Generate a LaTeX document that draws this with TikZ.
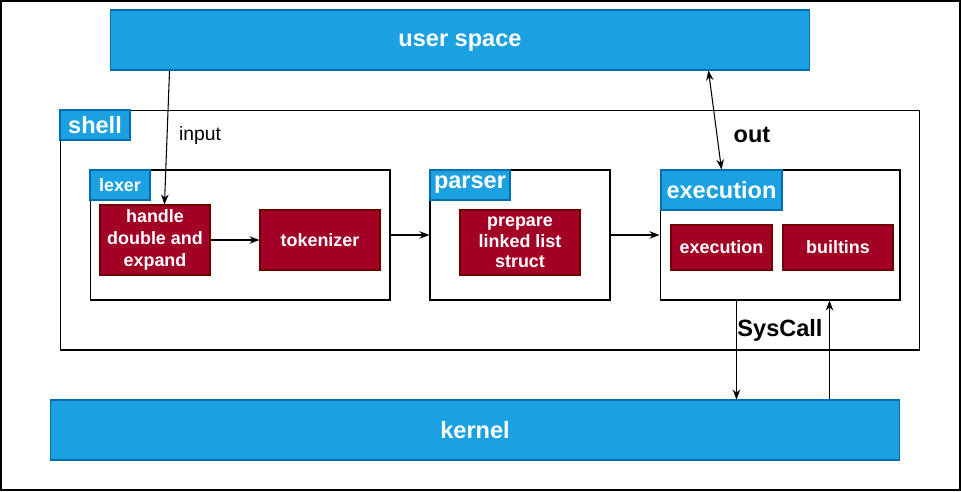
\documentclass[tikz,border=0pt]{standalone}
\usepackage{fontspec}
\setmainfont{Liberation Sans}
\usetikzlibrary{arrows.meta}
\definecolor{spaceblue}{HTML}{1BA1E2}
\definecolor{spaceline}{HTML}{006EAF}
\definecolor{stepred}{HTML}{A20025}
\definecolor{stepline}{HTML}{6F0000}

\begin{document}
\begin{tikzpicture}[>=Stealth, x=0.02cm, y=-0.02cm, line width=0.6pt,
  bigfont/.style={font=\bfseries\fontsize{13.4}{16}\selectfont},
  smallfont/.style={font=\bfseries\fontsize{10.2}{12.4}\selectfont},
  layer/.style={draw=spaceline, fill=spaceblue, text=white, bigfont,
    minimum height=1.2cm, inner sep=0pt, text depth=0pt},
  stage/.style={draw=black, fill=white, minimum height=2.6cm, inner sep=0pt},
  stagetag/.style={draw=spaceline, fill=spaceblue, text=white, bigfont,
    minimum height=0.6cm, inner sep=0pt},
  task/.style={draw=stepline, fill=stepred, text=white, smallfont,
    align=center, inner sep=0pt}]
  % Frame
  \useasboundingbox (0,0) rectangle (961,491);
  \draw[line width=1pt] (0.8,0.8) rectangle (960.2,490.2);
  % User space and kernel
  \node[layer, minimum width=14cm] (user) at (460,40) {user space};
  \node[layer, minimum width=17cm] (kernel) at (475,430) {kernel};
  % Shell
  \node[stage, minimum width=17.2cm, minimum height=4.8cm] (shell) at (490,230) {};
  \node[stagetag, minimum width=1.4cm] (shelltag) at (95,125) {shell};
  % Lexer
  \node[stage, minimum width=6cm] (lexer) at (240,235) {};
  \node[stagetag, smallfont, minimum width=1.2cm] (lexertag) at (120,185) {lexer};
  \node[task, minimum width=2.2cm, minimum height=1.4cm] (handle) at (155,240)
    {handle\\double and\\expand};
  \node[task, minimum width=2.4cm, minimum height=1.2cm] (token) at (320,240) {tokenizer};
  % Parser
  \node[stage, minimum width=3.6cm] (parser) at (520,235) {};
  \node[stagetag, minimum width=1.6cm] (parsertag) at (470,185) {parser};
  \node[task, minimum width=2.4cm, minimum height=1.3cm,
    font=\bfseries\fontsize{10.2}{11.6}\selectfont] (prepare) at (520,242.5)
    {prepare\\linked list\\struct};
  % Execution
  \node[stage, minimum width=4.8cm] (exec) at (780,235) {};
  \node[stagetag, minimum width=2.42cm, minimum height=0.8cm] (exectag) at (721.5,190) {execution};
  \node[task, minimum width=2.02cm, minimum height=0.9cm] (run) at (721.5,247.5) {execution};
  \node[task, minimum width=2.2cm, minimum height=0.9cm] (builtins) at (838,247.5) {builtins};
  % Labels
  \node[font=\fontsize{11}{13}\selectfont] (inputlbl) at (200,135) {input};
  \node[bigfont] (outlbl) at (752,135) {out};
  \node[bigfont] (syscalllbl) at (780,330) {SysCall};
  % Connectors
  \draw[->] ([xshift=1.2cm]user.south west) -- ([xshift=1.3cm]handle.north west);
  \draw[->] (handle) -- (token);
  \draw[->] (lexer) -- (parser);
  \draw[->] (parser) -- (exec);
  \draw[<->] ([xshift=-2.04cm]user.south east) -- (exectag.north);
  \draw[->] ([xshift=1.54cm]exec.south west) coordinate (sysdown)
    -- (sysdown |- kernel.north);
  \draw[->] ([xshift=-1.42cm]exec.south east |- kernel.north) coordinate (sysup)
    -- (sysup |- exec.south);
\end{tikzpicture}
\end{document}
